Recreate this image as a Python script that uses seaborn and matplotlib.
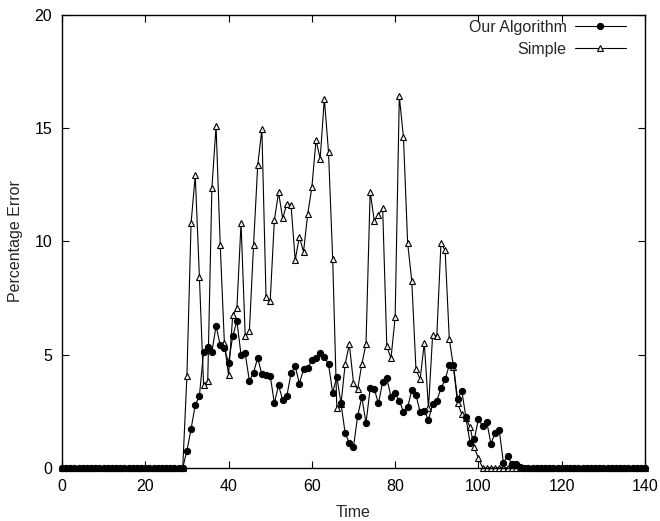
# Percentage error over time: our algorithm vs the simple approach
import matplotlib
matplotlib.use('Agg')
import matplotlib.pyplot as plt
import seaborn as sns
import pandas as pd

time = list(range(0, 141))

# values for t = 30..110 (zero elsewhere)
our_algorithm = [0.0] * 30 + [
    0.75, 1.71, 2.77, 3.17, 5.12, 5.34, 5.12, 6.26, 5.42, 5.27,
    4.64, 5.81, 6.48, 4.98, 5.05, 3.83, 4.20, 4.86, 4.12, 4.10,
    4.07, 2.84, 3.65, 2.99, 3.17, 4.17, 4.49, 3.72, 4.34, 4.39,
    4.75, 4.86, 5.08, 4.90, 4.58, 3.31, 4.02, 2.84, 1.52, 1.10,
    0.93, 2.28, 3.13, 1.96, 3.50, 3.46, 2.84, 3.80, 3.95, 3.13,
    3.28, 2.96, 2.47, 2.67, 3.43, 3.21, 2.47, 2.52, 2.11, 2.81,
    2.96, 3.50, 3.90, 4.53, 4.53, 3.02, 3.40, 2.22, 1.08, 1.25,
    2.15, 1.84, 2.03, 1.05, 1.55, 1.66, 0.22, 0.53, 0.16, 0.16,
    0.05,
] + [0.0] * 30

# values for t = 30..100 (zero elsewhere)
simple = [0.0] * 30 + [
    4.05, 10.80, 12.92, 8.43, 3.65, 3.83, 12.36, 15.10, 9.83, 5.49,
    4.09, 6.74, 7.04, 10.82, 5.81, 6.03, 9.83, 13.36, 14.95, 7.52,
    7.37, 10.94, 12.16, 11.01, 11.67, 11.60, 9.17, 10.20, 9.54, 11.20,
    12.38, 14.47, 13.66, 16.31, 13.95, 9.24, 2.62, 2.81, 4.58, 5.46,
    3.75, 3.46, 4.58, 5.46, 12.19, 10.90, 11.16, 11.48, 5.37, 4.83,
    6.64, 16.41, 14.59, 9.93, 8.24, 4.34, 3.90, 5.52, 2.62, 5.86,
    5.81, 9.91, 9.61, 5.70, 4.45, 2.84, 2.37, 2.20, 1.78, 0.90,
    0.41,
] + [0.0] * 40

df = pd.DataFrame({'Time': time, 'Our Algorithm': our_algorithm, 'Simple': simple})

sns.set_style('ticks')
plt.rcParams['font.family'] = ['Liberation Sans', 'DejaVu Sans']

fig = plt.figure(figsize=(6.6, 5.21), dpi=100)
ax = fig.add_axes([0.0939, 0.1023, 0.8834, 0.8689])

sns.lineplot(data=df, x='Time', y='Simple', ax=ax, color='black', linewidth=0.8,
             marker='^', markersize=4.5, markerfacecolor='#f0f0f0', markeredgecolor='black',
             markeredgewidth=0.8, clip_on=False, label='Simple')
sns.lineplot(data=df, x='Time', y='Our Algorithm', ax=ax, color='black', linewidth=0.8,
             marker='o', markersize=4.5, markerfacecolor='black', markeredgecolor='black',
             clip_on=False, label='Our Algorithm')

ax.set_xlim(0, 140)
ax.set_ylim(0, 20)
ax.set_xticks(range(0, 141, 20))
ax.set_yticks(range(0, 21, 5))
ax.tick_params(direction='in', length=5, width=0.8, top=True, right=True,
               labelsize=11.5, colors='black')
ax.tick_params(axis='x', pad=8)
ax.tick_params(axis='y', pad=7)
for s in ax.spines.values():
    s.set_linewidth(1.0)
    s.set_color('black')

ax.set_xlabel('Time', fontsize=11.5, labelpad=8)
ax.set_ylabel('Percentage Error', fontsize=11.5, labelpad=8)

handles, labels = ax.get_legend_handles_labels()
ax.legend(handles[::-1], labels[::-1], loc='upper right', bbox_to_anchor=(0.967, 0.99),
          frameon=False, markerfirst=False, handlelength=3.2, handletextpad=0.5,
          labelspacing=0.45, borderpad=0, borderaxespad=0, fontsize=11.5)

fig.savefig('out.png', dpi=100)
